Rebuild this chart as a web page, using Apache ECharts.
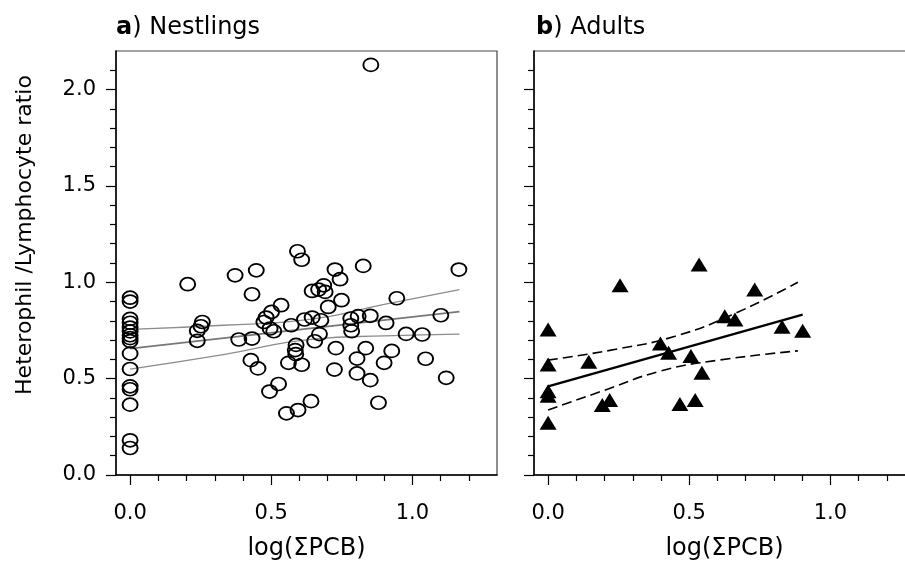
<!DOCTYPE html>
<html>
<head>
<meta charset="UTF-8">
<title>H/L ratio vs log(ΣPCB)</title>
<script src="https://cdn.jsdelivr.net/npm/echarts@6/dist/echarts.min.js"></script>
<style>
  body { margin: 0; background: #fff; }
  #chart { width: 905px; height: 563px; }
</style>
</head>
<body>
<div id="chart"></div>
<script>
// nestlings (panel a)
const nestX = [0, 0, 0, 0, 0, 0, 0, 0, 0, 0, 0, 0, 0, 0, 0, 0,
  0.204, 0.238, 0.251, 0.256, 0.238, 0.372, 0.385, 0.432, 0.432, 0.447,
  0.428, 0.453, 0.494, 0.526, 0.474, 0.482, 0.501, 0.535, 0.496, 0.509,
  0.554, 0.595, 0.641, 0.561, 0.608, 0.571, 0.588, 0.585, 0.587, 0.593,
  0.608, 0.618, 0.645, 0.645, 0.668, 0.686, 0.691, 0.676, 0.671, 0.654,
  0.702, 0.726, 0.744, 0.749, 0.729, 0.724, 0.782, 0.782, 0.785, 0.804,
  0.804, 0.808, 0.826, 0.835, 0.851, 0.851, 0.853, 0.880, 0.900, 0.907,
  0.927, 0.945, 0.978, 1.035, 1.047, 1.101, 1.120, 1.165];
const nestY = [0.92, 0.90, 0.81, 0.79, 0.765, 0.745, 0.725, 0.71, 0.695, 0.63, 0.55, 0.46, 0.445, 0.365, 0.18, 0.14,
  0.99, 0.748, 0.772, 0.794, 0.696, 1.036, 0.703, 0.708, 0.938, 1.062,
  0.596, 0.553, 0.433, 0.472, 0.794, 0.817, 0.846, 0.881, 0.760, 0.746,
  0.320, 0.337, 0.383, 0.582, 0.572, 0.777, 0.675, 0.648, 0.627, 1.161,
  1.117, 0.807, 0.817, 0.955, 0.962, 0.984, 0.950, 0.803, 0.731, 0.694,
  0.872, 1.066, 1.016, 0.907, 0.658, 0.547, 0.812, 0.777, 0.746, 0.604,
  0.527, 0.824, 1.085, 0.658, 0.492, 0.826, 2.128, 0.375, 0.582, 0.789,
  0.644, 0.917, 0.732, 0.729, 0.603, 0.829, 0.504, 1.066];

// adults (panel b)
const adultX = [0, 0, 0, 0, 0, 0.144, 0.192, 0.218, 0.255, 0.398, 0.427,
  0.467, 0.506, 0.521, 0.545, 0.535, 0.626, 0.662, 0.732, 0.829, 0.902];
const adultY = [0.755, 0.573, 0.435, 0.411, 0.271, 0.587, 0.363, 0.389, 0.984, 0.682, 0.634,
  0.368, 0.617, 0.389, 0.530, 1.092, 0.824, 0.807, 0.962, 0.769, 0.748];

// regression and confidence lines
const nestFitX = [0, 1.167];
const nestFitY = [0.656, 0.848];
const nestBandX = [0, 0.33, 0.65, 0.9, 1.167];
const nestUpperY = [0.756, 0.777, 0.81, 0.885, 0.962];
const nestLowerY = [0.549, 0.625, 0.705, 0.722, 0.731];

const adultFitX = [0, 0.902];
const adultFitY = [0.46, 0.832];
const adultUpperX = [0, 0.25, 0.45, 0.65, 0.885];
const adultUpperY = [0.596, 0.655, 0.72, 0.83, 1.0];
const adultLowerX = [0, 0.2, 0.4, 0.6, 0.885];
const adultLowerY = [0.337, 0.44, 0.54, 0.595, 0.644];

// ticks
const xMajor = [0, 0.5, 1.0];
const xMinor = [0.1, 0.2, 0.3, 0.4, 0.6, 0.7, 0.8, 0.9, 1.1, 1.2];
const yMajor = [0, 0.5, 1.0, 1.5, 2.0];
const yMinor = [0.1, 0.2, 0.3, 0.4, 0.6, 0.7, 0.8, 0.9, 1.1, 1.2, 1.3, 1.4,
  1.6, 1.7, 1.8, 1.9, 2.1];

const pairs = (xs, ys) => xs.map((x, i) => [x, ys[i]]);

const font = '"DejaVu Sans", sans-serif';
const ink = '#000';

function xAxes(gridIndex, name) {
  return [
    {
      type: 'value', gridIndex, position: 'bottom', min: -0.05, max: 1.3,
      name, nameLocation: 'middle', nameGap: 62,
      nameTextStyle: { fontFamily: font, fontSize: 24, color: ink },
      axisLine: { onZero: false, lineStyle: { color: ink, width: 1.5 } },
      axisTick: { customValues: xMajor, length: 10, lineStyle: { color: ink, width: 1.2 } },
      axisLabel: { customValues: xMajor, margin: 28, fontFamily: font, fontSize: 21, color: ink,
        formatter: v => v.toFixed(1) },
      splitLine: { show: false }
    },
    {
      type: 'value', gridIndex, position: 'bottom', min: -0.05, max: 1.3,
      axisLine: { show: false, onZero: false },
      axisTick: { customValues: xMinor, length: 6, lineStyle: { color: ink, width: 1.2 } },
      axisLabel: { show: false },
      splitLine: { show: false }
    }
  ];
}

function yAxes(gridIndex, showLabels) {
  return [
    {
      type: 'value', gridIndex, position: 'left', min: 0, max: 2.2,
      axisLine: { onZero: false, lineStyle: { color: ink, width: 1.5 } },
      axisTick: { customValues: yMajor, length: 10, lineStyle: { color: ink, width: 1.2 } },
      axisLabel: { show: showLabels, customValues: yMajor, margin: 20, fontFamily: font, fontSize: 21,
        color: ink, formatter: v => v.toFixed(1) },
      splitLine: { show: false }
    },
    {
      type: 'value', gridIndex, position: 'left', min: 0, max: 2.2,
      axisLine: { show: false, onZero: false },
      axisTick: { customValues: yMinor, length: 6, lineStyle: { color: ink, width: 1.2 } },
      axisLabel: { show: false },
      splitLine: { show: false }
    }
  ];
}

const chart = echarts.init(document.getElementById('chart'), null, { renderer: 'canvas' });

chart.setOption({
  backgroundColor: '#fff',
  animation: false,
  title: [
    {
      text: '{b|a}) Nestlings', left: 111, top: 11,
      textStyle: { fontFamily: font, fontSize: 24, fontWeight: 'normal', color: ink,
        rich: { b: { fontFamily: font, fontSize: 24, fontWeight: 'bold', color: ink } } }
    },
    {
      text: '{b|b}) Adults', left: 531, top: 11,
      textStyle: { fontFamily: font, fontSize: 24, fontWeight: 'normal', color: ink,
        rich: { b: { fontFamily: font, fontSize: 24, fontWeight: 'bold', color: ink } } }
    }
  ],
  graphic: [
    {
      type: 'text', x: 25, y: 235, rotation: Math.PI / 2,
      style: { text: 'Heterophil /Lymphocyte ratio', fontFamily: font, fontSize: 22, fill: ink,
        align: 'center', verticalAlign: 'middle' }
    }
  ],
  grid: [
    { left: 116, top: 51, width: 381, height: 424, outerBoundsMode: 'none',
      show: true, borderColor: '#444', borderWidth: 1.2 },
    { left: 534, top: 51, width: 381, height: 424, outerBoundsMode: 'none',
      show: true, borderColor: '#444', borderWidth: 1.2 }
  ],
  xAxis: [...xAxes(0, 'log(ΣPCB)'), ...xAxes(1, 'log(ΣPCB)')],
  yAxis: [...yAxes(0, true), ...yAxes(1, false)],
  series: [
    {
      type: 'line', xAxisIndex: 0, yAxisIndex: 0, data: pairs(nestFitX, nestFitY),
      showSymbol: false, lineStyle: { color: '#777', width: 1.7 }, z: 1
    },
    {
      type: 'line', xAxisIndex: 0, yAxisIndex: 0, data: pairs(nestBandX, nestUpperY),
      showSymbol: false, smooth: true, lineStyle: { color: '#8c8c8c', width: 1.3 }, z: 1
    },
    {
      type: 'line', xAxisIndex: 0, yAxisIndex: 0, data: pairs(nestBandX, nestLowerY),
      showSymbol: false, smooth: true, lineStyle: { color: '#8c8c8c', width: 1.3 }, z: 1
    },
    {
      type: 'scatter', xAxisIndex: 0, yAxisIndex: 0, data: pairs(nestX, nestY),
      symbol: 'circle', symbolSize: [15, 13],
      itemStyle: { color: 'rgba(0,0,0,0)', borderColor: '#000', borderWidth: 1.8, opacity: 1 }, z: 3
    },
    {
      type: 'line', xAxisIndex: 2, yAxisIndex: 2, data: pairs(adultFitX, adultFitY),
      showSymbol: false, lineStyle: { color: ink, width: 2.3 }, z: 1
    },
    {
      type: 'line', xAxisIndex: 2, yAxisIndex: 2, data: pairs(adultUpperX, adultUpperY),
      showSymbol: false, smooth: true, lineStyle: { color: ink, width: 1.6, type: [10, 5] }, z: 1
    },
    {
      type: 'line', xAxisIndex: 2, yAxisIndex: 2, data: pairs(adultLowerX, adultLowerY),
      showSymbol: false, smooth: true, lineStyle: { color: ink, width: 1.6, type: [10, 5] }, z: 1
    },
    {
      type: 'scatter', xAxisIndex: 2, yAxisIndex: 2, data: pairs(adultX, adultY),
      symbol: 'triangle', symbolSize: [17, 14],
      itemStyle: { color: '#000', opacity: 1 }, z: 3
    }
  ]
});
</script>
</body>
</html>
